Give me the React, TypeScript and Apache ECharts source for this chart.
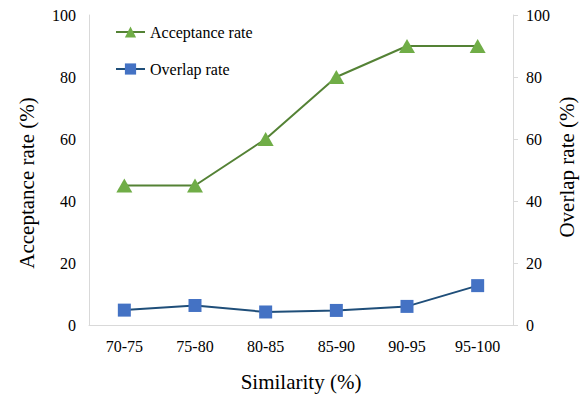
import React, { useEffect, useRef } from "react";
import * as echarts from "echarts";

const categories = ["70-75", "75-80", "80-85", "85-90", "90-95", "95-100"];
const acceptanceRate = [45, 45, 60, 80, 90, 90];
const overlapRate = [4.8, 6.3, 4.2, 4.7, 6.0, 12.7];
const seriesNames = ["Acceptance rate", "Overlap rate"];

const FONT = "Times New Roman, Liberation Serif, DejaVu Serif, serif";

export default function App() {
  const ref = useRef<HTMLDivElement>(null);
  useEffect(() => {
    if (!ref.current) return;
    const chart = echarts.init(ref.current, undefined, { renderer: "svg" });
    chart.setOption({
      animation: false,
      textStyle: { fontFamily: FONT },
      grid: { left: 89, right: 70, top: 15, bottom: 70 },
      legend: {
        orient: "vertical",
        left: 110,
        top: 19,
        itemGap: 21,
        itemWidth: 29,
        itemHeight: 14,
        textStyle: { fontFamily: FONT, fontSize: 16, color: "#000" },
        data: seriesNames,
      },
      xAxis: {
        type: "category",
        data: categories,
        boundaryGap: true,
        name: "Similarity (%)",
        nameLocation: "middle",
        nameGap: 46,
        nameTextStyle: { fontFamily: FONT, fontSize: 21, color: "#000" },
        axisLine: { lineStyle: { color: "#d9d9d9", width: 1 } },
        axisTick: { show: false },
        axisLabel: { fontFamily: FONT, fontSize: 16, color: "#000", margin: 13 },
      },
      yAxis: [
        {
          type: "value",
          min: 0,
          max: 100,
          interval: 20,
          position: "left",
          axisLine: { show: true, lineStyle: { color: "#d9d9d9" } },
          axisTick: { show: false },
          splitLine: { show: false },
          axisLabel: { fontFamily: FONT, fontSize: 16, color: "#000", margin: 13 },
        },
        {
          type: "value",
          min: 0,
          max: 100,
          interval: 20,
          position: "right",
          axisLine: { show: true, lineStyle: { color: "#d9d9d9" } },
          axisTick: { show: true, length: 5, lineStyle: { color: "#d9d9d9" } },
          splitLine: { show: false },
          axisLabel: { fontFamily: FONT, fontSize: 16, color: "#000", margin: 13 },
        },
      ],
      graphic: [
        {
          type: "text",
          x: 27,
          y: 183,
          rotation: Math.PI / 2,
          style: {
            text: "Acceptance rate (%)",
            fontFamily: FONT,
            fontSize: 21,
            fill: "#000",
            textAlign: "center",
            textVerticalAlign: "middle",
          },
        },
        {
          type: "text",
          x: 567,
          y: 167,
          rotation: Math.PI / 2,
          style: {
            text: "Overlap rate (%)",
            fontFamily: FONT,
            fontSize: 21,
            fill: "#000",
            textAlign: "center",
            textVerticalAlign: "middle",
          },
        },
      ],
      series: [
        {
          name: seriesNames[0],
          type: "line",
          yAxisIndex: 0,
          data: acceptanceRate,
          symbol: "triangle",
          symbolSize: [16, 14],
          lineStyle: { color: "#548235", width: 2 },
          itemStyle: { color: "#70AD47" },
        },
        {
          name: seriesNames[1],
          type: "line",
          yAxisIndex: 1,
          data: overlapRate,
          symbol: "rect",
          symbolSize: 13,
          lineStyle: { color: "#1F4E79", width: 2 },
          itemStyle: { color: "#4472C4" },
        },
      ],
    });
    return () => chart.dispose();
  }, []);
  return <div ref={ref} style={{ width: 583, height: 397, position: "absolute", left: 0, top: 0 }} />;
}
